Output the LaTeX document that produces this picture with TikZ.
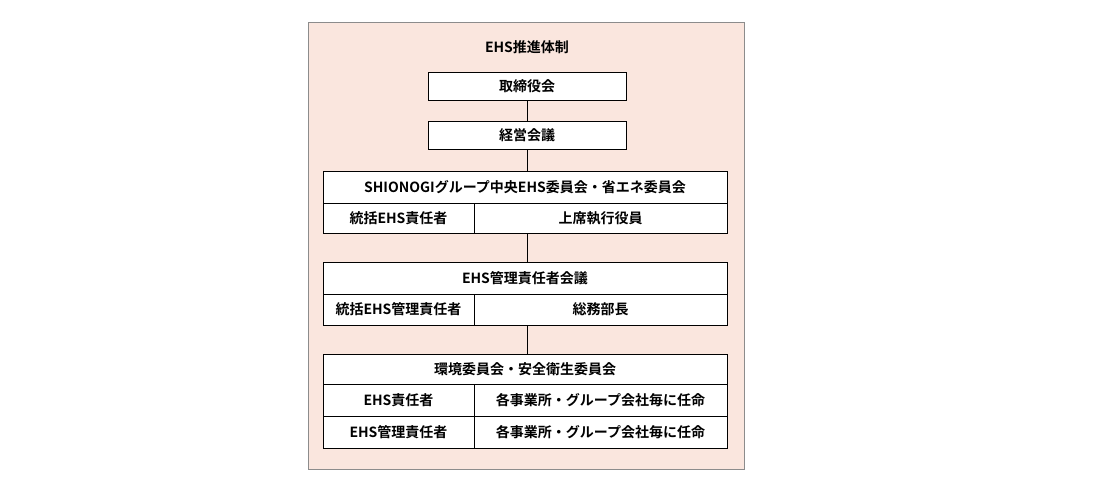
\documentclass[tikz,border=0pt]{standalone}
\usepackage{fontspec}
\setmainfont{Noto Sans CJK JP}[BoldFont={* Bold}]
\usetikzlibrary{positioning}
\definecolor{panelpink}{RGB}{250,230,222}
\definecolor{panelgray}{RGB}{140,140,140}
\tikzset{
  cell/.style = {draw, fill=white, line width=0.8pt, inner sep=0pt, font=\bfseries\fontsize{14}{16}\selectfont},
  link/.style = {line width=1pt}
}
\begin{document}
\begin{tikzpicture}[x=1pt,y=-1pt]
\useasboundingbox (0,0) rectangle (1108,490);
\draw[panelgray, fill=panelpink] (308,22) rectangle (744,469);
\node[font=\bfseries\fontsize{14}{16}\selectfont] (title) at (527,47) {EHS推進体制};
% top boxes
\node[cell, minimum width=198pt, minimum height=28pt] (board) at (527,86) {取締役会};
\node[cell, minimum width=198pt, minimum height=28pt] (mgmt) at (527,135) {経営会議};
% central committee
\node[cell, minimum width=404pt, minimum height=32pt] (central) at (525,187) {SHIONOGIグループ中央EHS委員会・省エネ委員会};
\node[cell, minimum width=151pt, minimum height=30pt] (chiefA) at (398.5,218) {統括EHS責任者};
\node[cell, minimum width=253pt, minimum height=30pt] (chiefB) at (600.5,218) {上席執行役員};
% manager meeting
\node[cell, minimum width=404pt, minimum height=32pt] (meeting) at (525,278) {EHS管理責任者会議};
\node[cell, minimum width=151pt, minimum height=31pt] (mgrA) at (398.5,309.5) {統括EHS管理責任者};
\node[cell, minimum width=253pt, minimum height=31pt] (mgrB) at (600.5,309.5) {総務部長};
% site committees
\node[cell, minimum width=404pt, minimum height=30pt] (site) at (525,369) {環境委員会・安全衛生委員会};
\node[cell, minimum width=151pt, minimum height=32pt] (ehsA) at (398.5,400) {EHS責任者};
\node[cell, minimum width=253pt, minimum height=32pt] (ehsB) at (600.5,400) {各事業所・グループ会社毎に任命};
\node[cell, minimum width=151pt, minimum height=32pt] (ehsmA) at (398.5,432) {EHS管理責任者};
\node[cell, minimum width=253pt, minimum height=32pt] (ehsmB) at (600.5,432) {各事業所・グループ会社毎に任命};
% connectors
\draw[link] (board.south) -- (mgmt.north);
\draw[link] (mgmt.south -| board.south) -- (central.north -| board.south);
\draw[link] (chiefB.south -| board.south) -- (meeting.north -| board.south);
\draw[link] (mgrB.south -| board.south) -- (site.north -| board.south);
\end{tikzpicture}
\end{document}
